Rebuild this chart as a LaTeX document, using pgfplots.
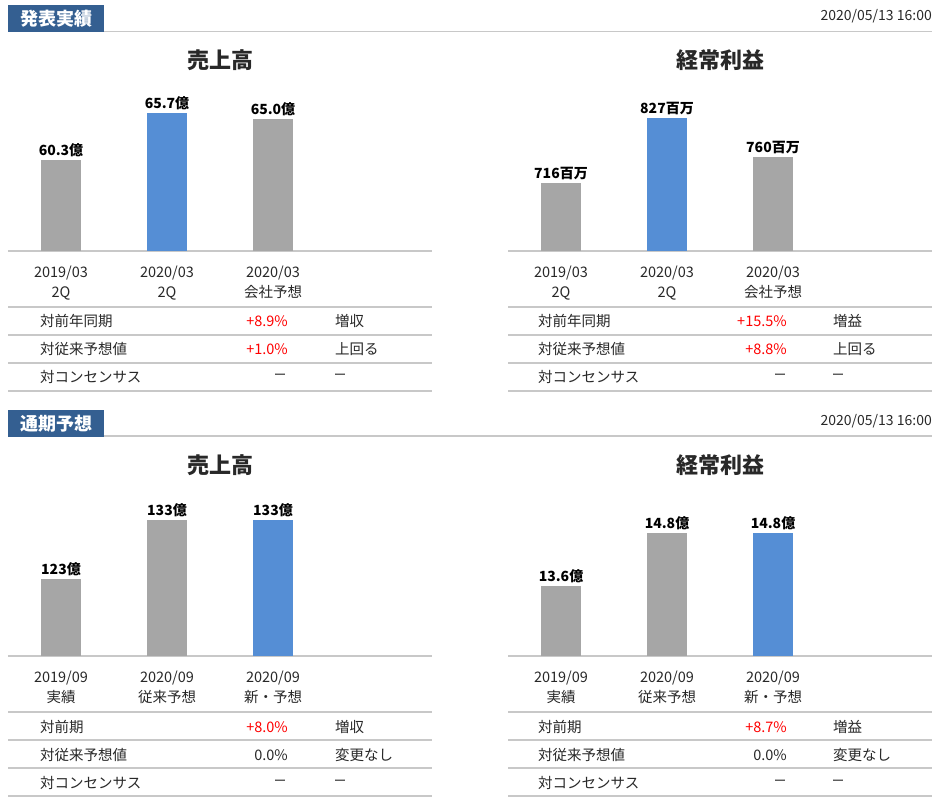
\documentclass[border=0pt]{standalone}
\usepackage{fontspec}
\setmainfont{Noto Sans CJK JP}
\usepackage{pgfplots}
\pgfplotsset{compat=1.18}
\definecolor{gry}{RGB}{166,166,166}
\definecolor{blu}{RGB}{85,142,213}
\definecolor{hdr}{RGB}{52,95,145}
\definecolor{ln}{RGB}{200,200,200}
\definecolor{txt}{RGB}{40,40,40}
\definecolor{rd}{RGB}{255,0,0}
\newcommand{\fs}[1]{\fontsize{#1}{#1}\selectfont}
\pgfplotsset{
  bars/.style={scale only axis, width=424pt, height=170pt, anchor=south west,
    xmin=-0.5, xmax=3.5, axis y line=none, axis x line*=bottom,
    axis line style={-}, x axis line style={draw=ln, line width=1.2pt, -},
    xtick={0,1,2}, major tick length=0pt,
    xticklabel style={align=center, font=\fontsize{14.5}{20}\selectfont, text=txt, inner sep=0pt, anchor=north, yshift=-15pt}},
  bar/.style={ybar, bar width=40pt, bar shift=0pt, draw=none, fill=#1,
    nodes near coords, point meta=explicit symbolic,
    every node near coord/.append style={font=\bfseries\fs{14}, text=black, anchor=south, inner sep=3pt}}
}
\begin{document}
\begin{tikzpicture}
\path[use as bounding box] (0pt,0pt) rectangle (939pt,804pt);
% ---------- headers ----------
\draw[ln, line width=1.2pt] (8pt,772.5pt) -- (932pt,772.5pt);
\fill[hdr] (8pt,799pt) rectangle (104pt,772pt);
\node[text=white, font=\bfseries\fs{18}] at (56pt,785.5pt) {発表実績};
\node[anchor=east, inner sep=0pt, text=txt, font=\fs{14}] at (932pt,788pt) {2020/05/13 16:00};
\draw[ln, line width=1.2pt] (8pt,368pt) -- (932pt,368pt);
\fill[hdr] (8pt,394pt) rectangle (104pt,367pt);
\node[text=white, font=\bfseries\fs{18}] at (56pt,380.5pt) {通期予想};
\node[anchor=east, inner sep=0pt, text=txt, font=\fs{14}] at (932pt,383pt) {2020/05/13 16:00};
% ---------- titles ----------
\node[text=txt, font=\bfseries\fs{22}] at (220pt,744pt) {売上高};
\node[text=txt, font=\bfseries\fs{22}] at (720pt,744pt) {経常利益};
\node[text=txt, font=\bfseries\fs{22}] at (220pt,339pt) {売上高};
\node[text=txt, font=\bfseries\fs{22}] at (720pt,339pt) {経常利益};
% ---------- charts ----------
\begin{axis}[bars, at={(8pt,553pt)}, ymin=50, ymax=69.34,
  xticklabels={2019/03\\2Q, 2020/03\\2Q, 2020/03\\会社予想}]
\addplot[bar=gry] coordinates {(0,60.3) [60.3億]};
\addplot[bar=blu] coordinates {(1,65.7) [65.7億]};
\addplot[bar=gry] coordinates {(2,65.0) [65.0億]};
\end{axis}
\begin{axis}[bars, at={(508pt,553pt)}, ymin=600, ymax=890.16,
  xticklabels={2019/03\\2Q, 2020/03\\2Q, 2020/03\\会社予想}]
\addplot[bar=gry] coordinates {(0,716) [716百万]};
\addplot[bar=blu] coordinates {(1,827) [827百万]};
\addplot[bar=gry] coordinates {(2,760) [760百万]};
\end{axis}
\begin{axis}[bars, at={(8pt,148pt)}, ymin=110, ymax=138.75,
  xticklabels={2019/09\\実績, 2020/09\\従来予想, 2020/09\\新・予想}]
\addplot[bar=gry] coordinates {(0,123) [123億]};
\addplot[bar=gry] coordinates {(1,133) [133億]};
\addplot[bar=blu] coordinates {(2,133) [133億]};
\end{axis}
\begin{axis}[bars, at={(508pt,148pt)}, ymin=12, ymax=15.87,
  xticklabels={2019/09\\実績, 2020/09\\従来予想, 2020/09\\新・予想}]
\addplot[bar=gry] coordinates {(0,13.6) [13.6億]};
\addplot[bar=gry] coordinates {(1,14.8) [14.8億]};
\addplot[bar=blu] coordinates {(2,14.8) [14.8億]};
\end{axis}
% ---------- tables ----------
\foreach \y in {497,469,441,413,92,64,36,8} {
  \draw[ln, line width=1.2pt] (8pt,\y pt) -- (432pt,\y pt);
  \draw[ln, line width=1.2pt] (508pt,\y pt) -- (932pt,\y pt);
}
\begin{scope}[every node/.style={text=txt, font=\fs{14.5}, inner sep=0pt}]
% top-left
\node[anchor=west] at (40pt,483pt) {対前年同期};
\node[anchor=west] at (40pt,455pt) {対従来予想値};
\node[anchor=west] at (40pt,427pt) {対コンセンサス};
\node[anchor=east, text=rd] at (288pt,483pt) {+8.9\%};
\node[anchor=east, text=rd] at (288pt,455pt) {+1.0\%};
\node[font=\fs{12.5}] at (280pt,427pt) {ー};
\node[anchor=west] at (335pt,483pt) {増収};
\node[anchor=west] at (335pt,455pt) {上回る};
\node[font=\fs{12.5}] at (340pt,427pt) {ー};
% top-right
\node[anchor=west] at (538pt,483pt) {対前年同期};
\node[anchor=west] at (538pt,455pt) {対従来予想値};
\node[anchor=west] at (538pt,427pt) {対コンセンサス};
\node[anchor=east, text=rd] at (787pt,483pt) {+15.5\%};
\node[anchor=east, text=rd] at (787pt,455pt) {+8.8\%};
\node[font=\fs{12.5}] at (780pt,427pt) {ー};
\node[anchor=west] at (833pt,483pt) {増益};
\node[anchor=west] at (833pt,455pt) {上回る};
\node[font=\fs{12.5}] at (838pt,427pt) {ー};
% bottom-left
\node[anchor=west] at (40pt,77pt) {対前期};
\node[anchor=west] at (40pt,49pt) {対従来予想値};
\node[anchor=west] at (40pt,21pt) {対コンセンサス};
\node[anchor=east, text=rd] at (288pt,77pt) {+8.0\%};
\node[anchor=east] at (288pt,49pt) {0.0\%};
\node[font=\fs{12.5}] at (280pt,21pt) {ー};
\node[anchor=west] at (335pt,77pt) {増収};
\node[anchor=west] at (335pt,49pt) {変更なし};
\node[font=\fs{12.5}] at (340pt,21pt) {ー};
% bottom-right
\node[anchor=west] at (538pt,77pt) {対前期};
\node[anchor=west] at (538pt,49pt) {対従来予想値};
\node[anchor=west] at (538pt,21pt) {対コンセンサス};
\node[anchor=east, text=rd] at (787pt,77pt) {+8.7\%};
\node[anchor=east] at (787pt,49pt) {0.0\%};
\node[font=\fs{12.5}] at (780pt,21pt) {ー};
\node[anchor=west] at (833pt,77pt) {増益};
\node[anchor=west] at (833pt,49pt) {変更なし};
\node[font=\fs{12.5}] at (838pt,21pt) {ー};
\end{scope}
\end{tikzpicture}
\end{document}
